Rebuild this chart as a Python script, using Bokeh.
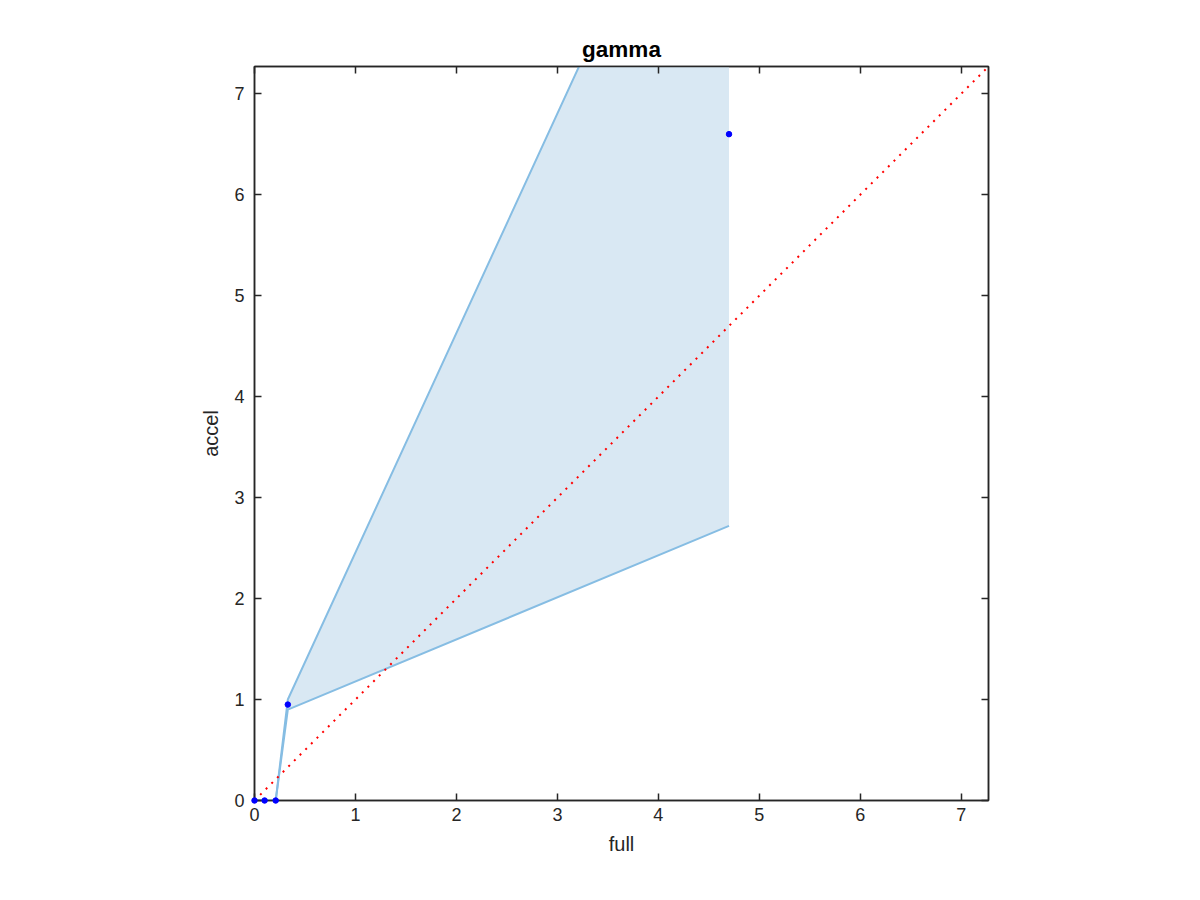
from bokeh.plotting import figure
from bokeh.models import LinearAxis, Range1d, FixedTicker
from bokeh.embed import file_html
from bokeh.resources import INLINE

# data
x_vals = [0.0, 0.1, 0.21, 0.33, 4.7]
lower = [0.0, 0.0, 0.0, 0.9, 2.72]
upper = [0.0, 0.0, 0.0, 1.0, 10.5]
pts_y = [0.0, 0.0, 0.0, 0.95, 6.6]
ticks = [0, 1, 2, 3, 4, 5, 6, 7]
lim = 7.27
title_text = "gamma"

FONT = "Liberation Sans"
DARK = "#262626"

p = figure(width=1184, height=884, output_backend="svg", toolbar_location=None,
           x_range=Range1d(0, lim), y_range=Range1d(0, lim),
           min_border_left=254, min_border_top=66, min_border_right=196, min_border_bottom=84,
           x_axis_label="full", y_axis_label="accel", title=title_text)

p.grid.visible = False
p.outline_line_color = DARK
p.outline_line_width = 1.5
p.background_fill_color = "white"
p.border_fill_color = "white"

p.title.align = "center"
p.title.text_font = FONT
p.title.text_font_size = "22.5px"
p.title.text_font_style = "bold"
p.title.text_color = "black"
p.title.offset = 0

for ax in [p.xaxis[0], p.yaxis[0]]:
    ax.ticker = FixedTicker(ticks=ticks)
    ax.major_tick_in = 7
    ax.major_tick_out = 0
    ax.minor_tick_line_color = None
    ax.axis_line_color = DARK
    ax.axis_line_width = 1.5
    ax.major_tick_line_color = DARK
    ax.major_tick_line_width = 1.5
    ax.major_label_text_font = FONT
    ax.major_label_text_font_size = "18px"
    ax.major_label_text_color = DARK
    ax.axis_label_text_font = FONT
    ax.axis_label_text_font_size = "20px"
    ax.axis_label_text_font_style = "normal"
    ax.axis_label_text_color = DARK
p.xaxis[0].major_label_standoff = 7
p.yaxis[0].major_label_standoff = 10
p.xaxis[0].axis_label_standoff = 9
p.yaxis[0].axis_label_standoff = 9

for loc in ["right", "above"]:
    ax = LinearAxis(ticker=FixedTicker(ticks=ticks))
    ax.major_tick_in = 7
    ax.major_tick_out = 0
    ax.minor_tick_line_color = None
    ax.axis_line_color = DARK
    ax.axis_line_width = 1.5
    ax.major_tick_line_color = DARK
    ax.major_tick_line_width = 1.5
    ax.major_label_text_color = None
    ax.major_label_text_font_size = "1px"
    if loc == "above":
        ax.major_label_standoff = 9
    p.add_layout(ax, loc)

# band
xs_poly = x_vals + x_vals[::-1]
ys_poly = upper + lower[::-1]
p.patch(xs_poly, ys_poly, fill_color="#d9e8f3", line_color=None)
p.line(x_vals, upper, line_color="#86bde3", line_width=2)
p.line(x_vals, lower, line_color="#86bde3", line_width=2)

# diagonal
p.line([0, lim], [0, lim], line_color="red", line_width=2, line_dash="2 6")

# points
p.scatter(x_vals, pts_y, size=5.5, marker="circle", fill_color="blue", line_color="blue",
          level="overlay")

open("out.html", "w").write(file_html(p, INLINE))
